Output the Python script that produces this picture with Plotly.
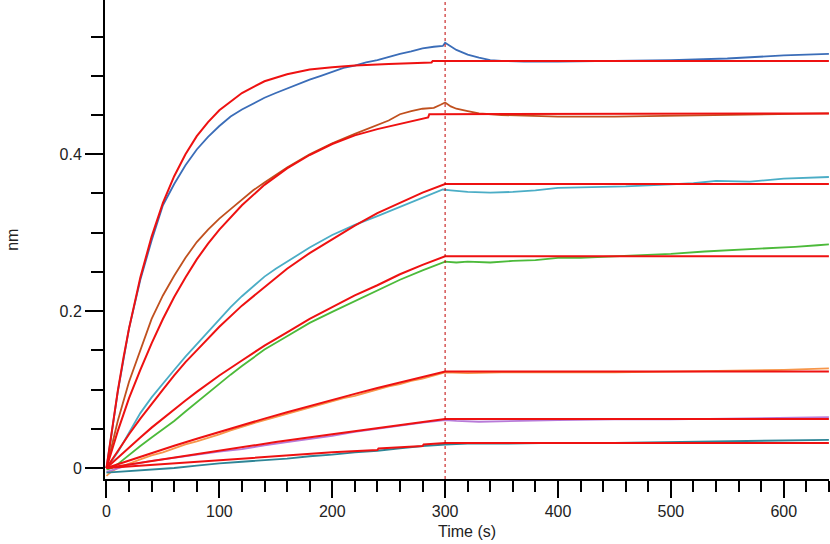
import plotly.graph_objects as go

# ---------------- data ----------------
# measured sensorgram traces: time (s) and response (nm)
t1 = [0, 5, 10, 20, 30, 40, 50, 60, 70, 80, 90, 100, 110, 120, 130, 140, 150, 160, 170, 180, 190, 200,
      210, 220, 230, 240, 250, 260, 270, 280, 290, 298, 300, 302, 310, 320, 330, 340, 350, 370, 400, 450,
      500, 550, 600, 640]
y1 = [0, 0.05, 0.097, 0.178, 0.24, 0.29, 0.335, 0.362, 0.386, 0.406, 0.422, 0.436, 0.448, 0.457, 0.465,
      0.472, 0.478, 0.484, 0.490, 0.495, 0.500, 0.505, 0.510, 0.513, 0.517, 0.520, 0.524, 0.528, 0.531,
      0.535, 0.537, 0.538, 0.542, 0.540, 0.533, 0.527, 0.523, 0.520, 0.519, 0.518, 0.518, 0.519, 0.520,
      0.522, 0.526, 0.528]

t2 = [0, 10, 20, 25, 30, 40, 50, 60, 70, 80, 90, 100, 110, 120, 130, 140, 150, 160, 180, 200, 220, 240,
      250, 260, 270, 280, 290, 296, 300, 305, 310, 320, 330, 350, 400, 450, 500, 550, 600, 640]
y2 = [0, 0.06, 0.11, 0.13, 0.15, 0.19, 0.22, 0.245, 0.268, 0.288, 0.304, 0.318, 0.330, 0.342, 0.354,
      0.364, 0.374, 0.383, 0.400, 0.414, 0.426, 0.437, 0.443, 0.451, 0.455, 0.458, 0.459, 0.463, 0.466,
      0.461, 0.458, 0.455, 0.452, 0.450, 0.448, 0.448, 0.449, 0.450, 0.451, 0.452]

t3 = [0, 10, 20, 30, 40, 50, 60, 70, 80, 90, 100, 110, 120, 130, 140, 150, 160, 170, 180, 200, 220, 240,
      260, 280, 290, 298, 305, 320, 340, 360, 380, 400, 430, 460, 490, 520, 540, 570, 600, 620, 640]
y3 = [0, 0.02, 0.045, 0.07, 0.09, 0.108, 0.125, 0.142, 0.158, 0.174, 0.19, 0.205, 0.219, 0.232, 0.244,
      0.254, 0.263, 0.272, 0.281, 0.297, 0.310, 0.321, 0.333, 0.345, 0.351, 0.355, 0.354, 0.352, 0.351,
      0.352, 0.354, 0.357, 0.358, 0.359, 0.361, 0.363, 0.366, 0.365, 0.369, 0.370, 0.371]

t4 = [0, 5, 10, 20, 30, 40, 50, 60, 70, 80, 90, 100, 110, 120, 140, 160, 180, 200, 220, 240, 260, 280,
      290, 300, 310, 320, 340, 360, 380, 400, 420, 450, 480, 500, 530, 560, 590, 610, 630, 640]
y4 = [-0.002, 0.0, 0.005, 0.017, 0.028, 0.039, 0.049, 0.06, 0.072, 0.084, 0.095, 0.108, 0.119, 0.13,
      0.151, 0.168, 0.185, 0.199, 0.213, 0.227, 0.240, 0.252, 0.258, 0.263, 0.262, 0.263, 0.262, 0.264,
      0.265, 0.268, 0.268, 0.270, 0.272, 0.273, 0.276, 0.278, 0.280, 0.282, 0.284, 0.285]

t5 = [0, 5, 10, 20, 30, 40, 50, 60, 70, 80, 90, 100, 110, 120, 130, 140, 150, 160, 170, 180, 190, 200,
      210, 220, 230, 240, 250, 260, 270, 280, 290, 300, 320, 350, 400, 450, 500, 550, 600, 640]
y5 = [-0.01, -0.004, 0.0, 0.006, 0.011, 0.016, 0.020, 0.025, 0.030, 0.034, 0.039, 0.043, 0.048, 0.053,
      0.057, 0.061, 0.065, 0.069, 0.073, 0.077, 0.081, 0.085, 0.089, 0.092, 0.096, 0.100, 0.104, 0.107,
      0.111, 0.114, 0.118, 0.122, 0.121, 0.122, 0.122, 0.122, 0.123, 0.124, 0.125, 0.127]

t6 = [0, 20, 40, 60, 80, 100, 120, 140, 160, 180, 200, 220, 240, 260, 280, 300, 310, 330, 360, 400, 450,
      500, 550, 600, 640]
y6 = [-0.005, 0.004, 0.009, 0.013, 0.017, 0.021, 0.024, 0.029, 0.033, 0.037, 0.041, 0.046, 0.050, 0.054,
      0.058, 0.061, 0.060, 0.059, 0.060, 0.061, 0.062, 0.062, 0.063, 0.064, 0.065]

t7 = [0, 10, 20, 40, 60, 80, 100, 120, 140, 160, 180, 200, 220, 240, 260, 280, 300, 320, 350, 400, 450,
      500, 550, 600, 640]
y7 = [-0.006, -0.005, -0.004, -0.002, 0.0, 0.003, 0.006, 0.008, 0.010, 0.012, 0.015, 0.017, 0.020, 0.022,
      0.025, 0.028, 0.030, 0.031, 0.031, 0.032, 0.032, 0.033, 0.034, 0.035, 0.036]

# fitted curves (red)
ft1 = [0, 5, 10, 15, 20, 30, 40, 50, 60, 70, 80, 90, 100, 120, 140, 160, 180, 200, 220, 250, 288, 289, 640]
fy1 = [0, 0.052, 0.098, 0.140, 0.178, 0.243, 0.295, 0.338, 0.372, 0.400, 0.423, 0.441, 0.456, 0.478,
       0.493, 0.502, 0.508, 0.511, 0.513, 0.515, 0.517, 0.519, 0.519]

ft2 = [0, 5, 10, 15, 20, 30, 40, 50, 60, 70, 80, 90, 100, 120, 140, 160, 180, 200, 220, 240, 260, 285,
       286, 640]
fy2 = [0, 0.024, 0.047, 0.068, 0.089, 0.125, 0.159, 0.190, 0.218, 0.243, 0.266, 0.286, 0.304, 0.335,
       0.361, 0.382, 0.399, 0.413, 0.424, 0.432, 0.439, 0.447, 0.451, 0.452]

ft3 = [0, 10, 20, 30, 40, 50, 60, 70, 80, 90, 100, 120, 140, 160, 180, 200, 220, 240, 260, 280, 300, 640]
fy3 = [0, 0.022, 0.043, 0.063, 0.082, 0.100, 0.118, 0.135, 0.150, 0.165, 0.180, 0.207, 0.231, 0.254,
       0.274, 0.292, 0.309, 0.325, 0.338, 0.351, 0.362, 0.362]

ft4 = [0, 10, 20, 30, 40, 50, 60, 70, 80, 90, 100, 120, 140, 160, 180, 200, 220, 240, 260, 280, 300, 640]
fy4 = [0, 0.0134, 0.0265, 0.039, 0.0515, 0.0633, 0.075, 0.086, 0.097, 0.108, 0.118, 0.137, 0.156, 0.173,
       0.190, 0.205, 0.220, 0.233, 0.247, 0.259, 0.270, 0.270]

ft5 = [0, 20, 40, 60, 80, 100, 120, 140, 160, 180, 200, 220, 240, 260, 280, 300, 640]
fy5 = [0, 0.0097, 0.0191, 0.0283, 0.0372, 0.046, 0.0546, 0.063, 0.071, 0.079, 0.087, 0.0945, 0.102,
       0.109, 0.116, 0.123, 0.123]

ft6 = [0, 50, 100, 150, 200, 250, 300, 640]
fy6 = [0, 0.011, 0.0222, 0.0331, 0.0430, 0.0530, 0.0625, 0.0625]

ft7 = [0, 50, 100, 150, 200, 240, 241, 280, 281, 300, 640]
fy7 = [0, 0.005, 0.010, 0.0145, 0.020, 0.023, 0.025, 0.028, 0.030, 0.032, 0.032]

data_series = [(t1, y1, "#3b6db8"), (t2, y2, "#c0501e"), (t3, y3, "#4badc6"), (t4, y4, "#4cba3a"),
               (t5, y5, "#f7964a"), (t6, y6, "#b87ad8"), (t7, y7, "#2e8596")]
fit_series = [(ft1, fy1), (ft2, fy2), (ft3, fy3), (ft4, fy4), (ft5, fy5), (ft6, fy6), (ft7, fy7)]

x_ticks = [0, 100, 200, 300, 400, 500, 600]
y_ticks = [0, 0.2, 0.4]
y_tick_text = ["0", "0.2", "0.4"]
step_time = 300

# ---------------- figure ----------------
fig = go.Figure()
for t, y, c in data_series:
    fig.add_trace(go.Scatter(x=t, y=y, mode="lines", line=dict(color=c, width=1.8),
                             showlegend=False, hoverinfo="skip"))
for t, y in fit_series:
    fig.add_trace(go.Scatter(x=t, y=y, mode="lines", line=dict(color="#ee1111", width=2),
                             showlegend=False, hoverinfo="skip"))

fig.add_shape(type="line", xref="x", yref="paper", x0=step_time, x1=step_time, y0=0, y1=1,
              line=dict(color="#c00000", width=1, dash="dot"))

font = dict(family="Liberation Sans, Arial, sans-serif", size=16, color="#222222")

fig.update_layout(
    width=830, height=544,
    margin=dict(l=105, r=1, t=0, b=65),
    paper_bgcolor="white", plot_bgcolor="white",
    font=font,
    xaxis=dict(range=[-1.3, 640.1], showgrid=False, zeroline=False, showline=True,
               linecolor="black", linewidth=2, ticks="outside", ticklen=17, tickwidth=2,
               tickcolor="black", tickvals=x_ticks,
               minor=dict(dtick=20, tick0=0, ticks="outside", ticklen=11, tickwidth=2,
                          tickcolor="black", showgrid=False)),
    yaxis=dict(range=[-0.014, 0.5966], showgrid=False, zeroline=False, showline=True,
               linecolor="black", linewidth=2, ticks="outside", ticklen=18, tickwidth=2,
               tickcolor="black", tickvals=y_ticks, ticktext=y_tick_text,
               minor=dict(dtick=0.05, tick0=0, ticks="outside", ticklen=12, tickwidth=2,
                          tickcolor="black", showgrid=False)),
    annotations=[
        dict(text="Time (s)", xref="paper", yref="paper", x=0.5, y=-0.11, showarrow=False,
             xanchor="center", yanchor="middle", font=font),
        dict(text="nm", xref="paper", yref="paper", x=-0.128, y=0.5, showarrow=False,
             textangle=-90, xanchor="center", yanchor="middle", font=font),
    ],
)

fig.write_html("out.html")
